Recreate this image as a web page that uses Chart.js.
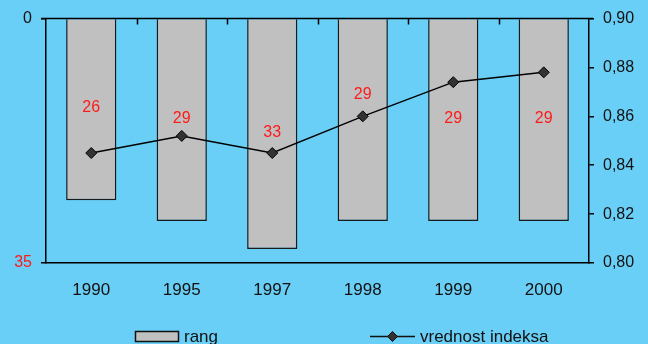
<!DOCTYPE html>
<html>
<head>
<meta charset="utf-8">
<script src="https://cdn.jsdelivr.net/npm/chart.js@4/dist/chart.umd.min.js"></script>
<style>
  html, body { margin: 0; padding: 0; background: #69CFF6; }
  #wrap { width: 648px; height: 344px; }
</style>
</head>
<body>
<div id="wrap"><canvas id="c" width="648" height="344"></canvas></div>
<script>
// Years on the category axis
const years = ['1990', '1995', '1997', '1998', '1999', '2000'];
// Rank (left axis, reversed: 0 at the top, 35 at the bottom)
const rang = [26, 29, 33, 29, 29, 29];
// Index value (right axis)
const vrednostIndeksa = [0.845, 0.852, 0.845, 0.860, 0.874, 0.878];
// Tick labels shown on the left axis
const rangTicks = [0, 35];

const BG = '#69CFF6';
const FONT = '"Liberation Sans", Arial, sans-serif';

// Page background
const background = {
  id: 'background',
  beforeDraw(chart) {
    const ctx = chart.ctx;
    ctx.save();
    ctx.fillStyle = BG;
    ctx.fillRect(0, 0, chart.width, chart.height);
    ctx.restore();
  }
};

// Top edge line with category separators (the bars hang from it)
const topEdge = {
  id: 'topEdge',
  afterDatasetsDraw(chart) {
    const { ctx, chartArea } = chart;
    const x = chart.scales.x;
    const n = chart.data.labels.length;
    const step = (chartArea.right - chartArea.left) / n;
    ctx.save();
    ctx.strokeStyle = '#000';
    ctx.lineWidth = 1.5;
    ctx.beginPath();
    ctx.moveTo(chartArea.left - 5, chartArea.top);
    ctx.lineTo(chartArea.right + 4, chartArea.top);
    for (let i = 1; i < n; i++) {
      const px = Math.round(chartArea.left + step * i) + 0.5;
      ctx.moveTo(px, chartArea.top);
      ctx.lineTo(px, chartArea.top + 6);
    }
    ctx.stroke();
    ctx.restore();
  }
};

// Red value labels inside the bars
const barLabels = {
  id: 'barLabels',
  afterDatasetsDraw(chart, args, opts) {
    const ctx = chart.ctx;
    const meta = chart.getDatasetMeta(0);
    ctx.save();
    ctx.fillStyle = '#FF1A1A';
    ctx.font = '16px ' + FONT;
    ctx.textAlign = 'center';
    ctx.textBaseline = 'middle';
    meta.data.forEach((bar, i) => {
      const cy = (bar.y + bar.base) / 2 - 2 - (opts.raise[i] || 0);
      ctx.fillText(String(chart.data.datasets[0].data[i]), bar.x, cy);
    });
    ctx.restore();
  }
};

// Legend row along the bottom edge
const bottomLegend = {
  id: 'bottomLegend',
  afterDraw(chart) {
    const ctx = chart.ctx;
    ctx.save();
    ctx.font = '17px ' + FONT;
    ctx.textBaseline = 'alphabetic';
    ctx.fillStyle = '#111';
    // bar swatch
    ctx.fillStyle = '#C0C0C0';
    ctx.fillRect(135.5, 331.5, 43, 10);
    ctx.strokeStyle = '#111';
    ctx.lineWidth = 1.5;
    ctx.strokeRect(135.5, 331.5, 43, 10);
    ctx.fillStyle = '#111';
    ctx.fillText(chart.data.datasets[0].label, 184, 342);
    // line swatch
    ctx.beginPath();
    ctx.moveTo(370, 336.5);
    ctx.lineTo(415, 336.5);
    ctx.lineWidth = 1.5;
    ctx.stroke();
    ctx.beginPath();
    ctx.moveTo(392.5, 331.5);
    ctx.lineTo(397.5, 336.5);
    ctx.lineTo(392.5, 341.5);
    ctx.lineTo(387.5, 336.5);
    ctx.closePath();
    ctx.fillStyle = '#333';
    ctx.fill();
    ctx.lineWidth = 1;
    ctx.stroke();
    ctx.fillStyle = '#111';
    ctx.fillText(chart.data.datasets[1].label, 420, 342);
    ctx.restore();
  }
};

new Chart(document.getElementById('c'), {
  data: {
    labels: years,
    datasets: [
      {
        type: 'bar',
        label: 'rang',
        data: rang,
        yAxisID: 'y',
        backgroundColor: '#C0C0C0',
        borderColor: '#1a1a1a',
        borderWidth: 1.5,
        categoryPercentage: 1,
        barPercentage: 0.555,
        order: 2
      },
      {
        type: 'line',
        label: 'vrednost indeksa',
        data: vrednostIndeksa,
        yAxisID: 'y1',
        borderColor: '#000',
        borderWidth: 1.5,
        pointStyle: 'rectRot',
        pointRadius: 5.5,
        pointBackgroundColor: '#333',
        pointBorderColor: '#000',
        pointBorderWidth: 1,
        tension: 0,
        order: 1
      }
    ]
  },
  options: {
    responsive: false,
    animation: false,
    devicePixelRatio: 1,
    layout: { padding: { top: 18, left: 0, right: 0, bottom: 0 } },
    plugins: {
      legend: { display: false },
      tooltip: { enabled: false },
      barLabels: { raise: [0, 0, 0, 24, 0, 0] }
    },
    scales: {
      x: {
        position: 'bottom',
        offset: true,
        grid: { display: false, drawTicks: false },
        border: { display: true, color: '#000', width: 1.5 },
        ticks: { color: '#111', font: { family: FONT, size: 17 }, padding: 17, maxRotation: 0 },
        afterFit(s) { s.height = 81; }
      },
      y: {
        position: 'left',
        reverse: true,
        min: 0,
        max: 35,
        afterBuildTicks(s) { s.ticks = rangTicks.map(v => ({ value: v })); },
        grid: { drawOnChartArea: false, drawTicks: true, tickLength: 5, color: '#000', lineWidth: 1.5 },
        border: { display: true, color: '#000', width: 1.5 },
        ticks: {
          padding: 9,
          font: { family: FONT, size: 16 },
          color: c => (c.tick && c.tick.value === 35 ? '#FF1A1A' : '#111')
        },
        afterFit(s) { s.width = 46; }
      },
      y1: {
        position: 'right',
        min: 0.8,
        max: 0.9,
        grid: { drawOnChartArea: false, drawTicks: true, tickLength: 5, color: '#000', lineWidth: 1.5 },
        border: { display: true, color: '#000', width: 1.5 },
        ticks: {
          stepSize: 0.02,
          padding: 9,
          color: '#111',
          font: { family: FONT, size: 16 },
          callback: v => v.toFixed(2).replace('.', ',')
        },
        afterFit(s) { s.width = 59; }
      }
    }
  },
  plugins: [background, topEdge, barLabels, bottomLegend]
});
</script>
</body>
</html>
